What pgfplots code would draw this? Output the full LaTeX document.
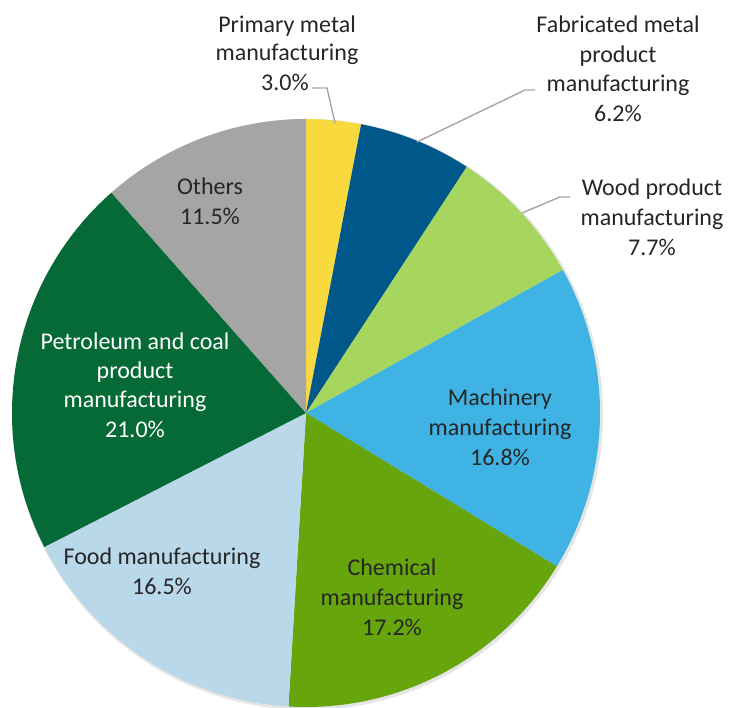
\documentclass[border=0pt]{standalone}
\usepackage{pgfplots}
\pgfplotsset{compat=1.18}
\usepackage{pgfplotstable}
\usepackage{fontspec}
\setmainfont{Carlito}

\definecolor{c0}{HTML}{F9DA3E}
\definecolor{c1}{HTML}{00578A}
\definecolor{c2}{HTML}{A6D65E}
\definecolor{c3}{HTML}{3FB3E3}
\definecolor{c4}{HTML}{66A60C}
\definecolor{c5}{HTML}{B9D8EA}
\definecolor{c6}{HTML}{066A36}
\definecolor{c7}{HTML}{A5A5A5}
\definecolor{txt}{HTML}{262626}
\definecolor{lead}{HTML}{A6A6A6}

\tikzset{lab/.style={font=\fontsize{24}{29.5}\selectfont,text=txt,inner sep=0pt,anchor=base}}

\pgfplotstableread{
sector value
Primary 3.0
Fabricated 6.2
Wood 7.7
Machinery 16.8
Chemical 17.2
Food 16.5
Petroleum 21.0
Others 11.5
}\piedata

\xdef\pietot{0}
\pgfplotstableforeachcolumnelement{value}\of\piedata\as\v{%
  \pgfmathparse{\pietot+\v}\xdef\pietot{\pgfmathresult}}
\pgfmathparse{360/\pietot}\xdef\piek{\pgfmathresult}
\xdef\piecum{0}
\pgfplotstableforeachcolumnelement{value}\of\piedata\as\v{%
  \pgfmathparse{90-\piecum*\piek}%
  \expandafter\xdef\csname pieS\pgfplotstablerow\endcsname{\pgfmathresult}%
  \pgfmathparse{\piecum+\v}\xdef\piecum{\pgfmathresult}%
  \pgfmathparse{90-\piecum*\piek}%
  \expandafter\xdef\csname pieE\pgfplotstablerow\endcsname{\pgfmathresult}}

\begin{document}
\begin{tikzpicture}
\begin{axis}[x=1pt,y=1pt,xmin=0,xmax=730,ymin=0,ymax=708,
  hide axis,clip=false,anchor=origin,at={(0,0)}]
\fill[black,opacity=0.10] (axis cs:307.5,293.5) circle[radius=295.5pt];
\pgfplotsinvokeforeach{0,...,7}{
  \fill[c#1] (axis cs:306,295) -- ([shift={(\csname pieS#1\endcsname:294pt)}]axis cs:306,295)
    arc[start angle=\csname pieS#1\endcsname, end angle=\csname pieE#1\endcsname, radius=294pt] -- cycle;
}
% leader lines
\draw[lead,line width=1.4pt] (axis cs:312,620) -- (axis cs:327,620) -- (axis cs:335,585);
\draw[lead,line width=1.4pt] (axis cs:535,618) -- (axis cs:525,618) -- (axis cs:417,566);
\draw[lead,line width=1.4pt] (axis cs:570,511) -- (axis cs:560,511) -- (axis cs:522,495);
% labels
\node[lab] at (axis cs:287,675) {Primary metal};
\node[lab] at (axis cs:287,647) {manufacturing};
\node[lab] at (axis cs:285,617) {3.0\%};
\node[lab] at (axis cs:618,675) {Fabricated metal};
\node[lab] at (axis cs:618,645) {product};
\node[lab] at (axis cs:618,616) {manufacturing};
\node[lab] at (axis cs:618,586) {6.2\%};
\node[lab] at (axis cs:652,512) {Wood product};
\node[lab] at (axis cs:652,482) {manufacturing};
\node[lab] at (axis cs:652,452) {7.7\%};
\node[lab] at (axis cs:500,302) {Machinery};
\node[lab] at (axis cs:500,272) {manufacturing};
\node[lab] at (axis cs:500,242) {16.8\%};
\node[lab] at (axis cs:392,132) {Chemical};
\node[lab] at (axis cs:392,102) {manufacturing};
\node[lab] at (axis cs:392,72) {17.2\%};
\node[lab] at (axis cs:162,143) {Food manufacturing};
\node[lab] at (axis cs:162,113) {16.5\%};
\node[lab,text=white] at (axis cs:135,358) {Petroleum and coal};
\node[lab,text=white] at (axis cs:135,329) {product};
\node[lab,text=white] at (axis cs:135,300) {manufacturing};
\node[lab,text=white] at (axis cs:135,270) {21.0\%};
\node[lab] at (axis cs:210,513) {Others};
\node[lab] at (axis cs:210,483) {11.5\%};
\end{axis}
\pgfresetboundingbox
\path (0,0) rectangle (730pt,708pt);
\end{tikzpicture}
\end{document}
